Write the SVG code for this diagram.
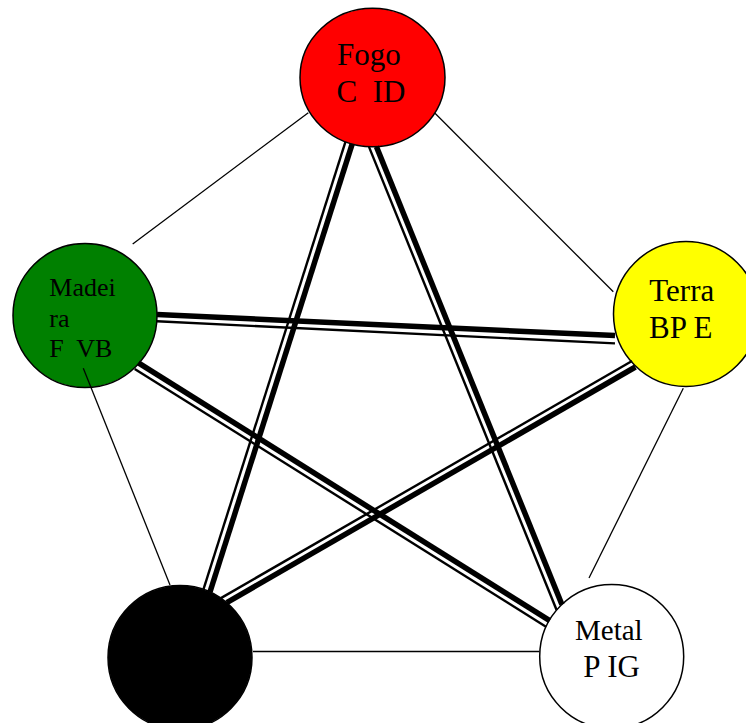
<svg xmlns="http://www.w3.org/2000/svg" width="746" height="723" viewBox="0 0 746 723">
<style>
.node{stroke:#000;stroke-width:1.5}
.lbl{font-family:"Liberation Serif","Times New Roman",serif;fill:#000;white-space:pre}
.thin{stroke:#000;stroke-width:1.3;fill:none}
.dthick{stroke:#000;stroke-width:5.5;fill:none}
.dthin{stroke:#000;stroke-width:2.4;fill:none}
</style>
<rect width="746" height="723" fill="#fff"/>
<g id="fogo">
<ellipse class="node" cx="372.5" cy="77.5" rx="72.5" ry="69.2" fill="#ff0000"/>
<text class="lbl" font-size="31" x="337" y="65">Fogo</text>
<text class="lbl" font-size="31" x="336.5" y="101.7" xml:space="preserve">C  ID</text>
</g>
<g id="madeira">
<circle class="node" cx="85" cy="315.5" r="72" fill="#008000"/>
<text class="lbl" font-size="26" x="49.3" y="295.7">Madei</text>
<text class="lbl" font-size="26" x="49.3" y="326.7">ra</text>
<text class="lbl" font-size="26" x="49.3" y="356.7" xml:space="preserve">F  VB</text>
</g>
<g id="terra">
<circle class="node" cx="686" cy="314" r="72.5" fill="#ffff00"/>
<text class="lbl" font-size="31" x="649.3" y="300.7">Terra</text>
<text class="lbl" font-size="31" x="649" y="338.3">BP E</text>
</g>
<g id="metal">
<circle class="node" cx="611.7" cy="656.5" r="72" fill="#ffffff"/>
<text class="lbl" font-size="29" x="575" y="640">Metal</text>
<text class="lbl" font-size="31" x="583.3" y="677.3">P IG</text>
</g>
<g id="agua">
<circle class="node" cx="180" cy="657.5" r="72" fill="#000000"/>
</g>
<g id="connectors">
<line class="thin" x1="132.7" y1="244" x2="308.3" y2="112.7"/>
<line class="thin" x1="435" y1="113.3" x2="613.3" y2="291.7"/>
<line class="thin" x1="683.3" y1="388.3" x2="589" y2="578"/>
<line class="thin" x1="83.3" y1="368.3" x2="170" y2="585"/>
<line class="thin" x1="253" y1="651.5" x2="539.5" y2="651.5"/>
<line class="dthin" x1="345.5" y1="141.7" x2="203.3" y2="589.9"/>
<line class="dthick" x1="352.2" y1="143.8" x2="210" y2="592"/>
<line class="dthin" x1="369" y1="146.9" x2="556.5" y2="609.8"/>
<line class="dthick" x1="376.4" y1="146.6" x2="561.9" y2="604.5"/>
<line class="dthick" x1="157" y1="314.5" x2="615" y2="335.6"/>
<line class="dthin" x1="157" y1="321.3" x2="615" y2="343.4"/>
<line class="dthick" x1="138.4" y1="362.9" x2="549.7" y2="620.7"/>
<line class="dthin" x1="134.7" y1="368.9" x2="546" y2="626.7"/>
<line class="dthick" x1="635.4" y1="367" x2="226.8" y2="602.6"/>
<line class="dthin" x1="632" y1="361" x2="220.9" y2="598.1"/>
</g>
</svg>
